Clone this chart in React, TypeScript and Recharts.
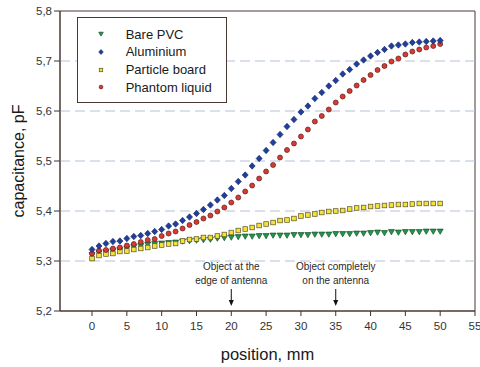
import {
  ReferenceArea,
  ReferenceDot,
  ReferenceLine,
  Scatter,
  ScatterChart,
  XAxis,
  YAxis,
} from "recharts";

// position, mm
const positions = [
  0, 1, 2, 3, 4, 5, 6, 7, 8, 9, 10, 11, 12, 13, 14, 15, 16, 17, 18, 19, 20,
  21, 22, 23, 24, 25, 26, 27, 28, 29, 30, 31, 32, 33, 34, 35, 36, 37, 38, 39,
  40, 41, 42, 43, 44, 45, 46, 47, 48, 49, 50,
];

// capacitance, pF
const barePvc = [
  5.312, 5.316, 5.318, 5.32, 5.322, 5.325, 5.328, 5.33, 5.333, 5.334, 5.335,
  5.336, 5.337, 5.339, 5.34, 5.341, 5.342, 5.343, 5.345, 5.346, 5.347, 5.348,
  5.349, 5.349, 5.35, 5.35, 5.351, 5.351, 5.351, 5.352, 5.352, 5.352, 5.353,
  5.353, 5.353, 5.354, 5.354, 5.354, 5.355, 5.355, 5.356, 5.357, 5.356, 5.358,
  5.357, 5.358, 5.358, 5.358, 5.359, 5.359, 5.359,
];
const aluminium = [
  5.323, 5.33, 5.335, 5.339, 5.34, 5.345, 5.349, 5.351, 5.355, 5.359, 5.363,
  5.37, 5.374, 5.381, 5.388, 5.395, 5.403, 5.412, 5.422, 5.431, 5.445, 5.459,
  5.472, 5.49, 5.505, 5.521, 5.537, 5.553, 5.569, 5.583, 5.598, 5.61, 5.625,
  5.637, 5.65, 5.661, 5.674, 5.683, 5.694, 5.702, 5.71, 5.717, 5.723, 5.73,
  5.732, 5.734, 5.737, 5.738, 5.739, 5.74, 5.741,
];
const particleBoard = [
  5.305, 5.311, 5.314, 5.315, 5.319, 5.32, 5.323, 5.325, 5.327, 5.33, 5.332,
  5.334, 5.335, 5.34, 5.343, 5.344, 5.347, 5.347, 5.35, 5.353, 5.357, 5.361,
  5.364, 5.367, 5.371, 5.374, 5.377, 5.381, 5.382, 5.385, 5.39, 5.392, 5.394,
  5.397, 5.399, 5.4, 5.401, 5.404, 5.406, 5.407, 5.409, 5.41, 5.411, 5.412,
  5.413, 5.413, 5.414, 5.415, 5.415, 5.415, 5.415,
];
const phantomLiquid = [
  5.315, 5.321, 5.322, 5.325, 5.327, 5.331, 5.334, 5.338, 5.342, 5.344, 5.35,
  5.355, 5.359, 5.365, 5.372, 5.378, 5.385, 5.391, 5.399, 5.407, 5.417, 5.427,
  5.439, 5.451, 5.465, 5.479, 5.492, 5.507, 5.522, 5.535, 5.549, 5.563, 5.579,
  5.59, 5.603, 5.617, 5.629, 5.64, 5.651, 5.662, 5.672, 5.682, 5.69, 5.699,
  5.705, 5.713, 5.719, 5.723, 5.727, 5.73, 5.734,
];

const xTicks = [0, 5, 10, 15, 20, 25, 30, 35, 40, 45, 50, 55];
const xMinorTicks = [
  -4, -3, -2, -1, 0, 1, 2, 3, 4, 5, 6, 7, 8, 9, 10, 11, 12, 13, 14, 15, 16,
  17, 18, 19, 20, 21, 22, 23, 24, 25, 26, 27, 28, 29, 30, 31, 32, 33, 34, 35,
  36, 37, 38, 39, 40, 41, 42, 43, 44, 45, 46, 47, 48, 49, 50, 51, 52, 53, 54,
  55,
];
const yTicks = [5.2, 5.3, 5.4, 5.5, 5.6, 5.7, 5.8];
const yMinorTicks = [
  5.2, 5.22, 5.24, 5.26, 5.28, 5.3, 5.32, 5.34, 5.36, 5.38, 5.4, 5.42, 5.44,
  5.46, 5.48, 5.5, 5.52, 5.54, 5.56, 5.58, 5.6, 5.62, 5.64, 5.66, 5.68, 5.7,
  5.72, 5.74, 5.76, 5.78, 5.8,
];
const gridValues = [5.3, 5.4, 5.5, 5.6, 5.7];

const annotations = [
  { x: 20, lines: ["Object at the", "edge of antenna"] },
  { x: 35, lines: ["Object completely", "on the antenna"] },
];

const X_DOMAIN: [number, number] = [-4.6, 55];
const Y_DOMAIN: [number, number] = [5.2, 5.8];
const FONT = "'Liberation Sans', Arial, sans-serif";
const LINE = "#4a3835";

type Kind = "triangle" | "diamond" | "square" | "circle";

const series: {
  name: string;
  values: number[];
  kind: Kind;
  fill: string;
  stroke: string;
}[] = [
  { name: "Bare PVC", values: barePvc, kind: "triangle", fill: "#1f9a4a", stroke: "#164a2a" },
  { name: "Aluminium", values: aluminium, kind: "diamond", fill: "#1f3f9f", stroke: "#1a2a6a" },
  { name: "Particle board", values: particleBoard, kind: "square", fill: "#f2e23a", stroke: "#5a5020" },
  { name: "Phantom liquid", values: phantomLiquid, kind: "circle", fill: "#d83a32", stroke: "#5a2020" },
];

// draw order: green under yellow under red under blue
const drawOrder = [0, 2, 3, 1];

function Marker({
  cx,
  cy,
  kind,
  fill,
  stroke,
  s = 1,
}: {
  cx: number;
  cy: number;
  kind: Kind;
  fill: string;
  stroke: string;
  s?: number;
}) {
  if (cx == null || cy == null) return null;
  const sw = 0.7;
  switch (kind) {
    case "triangle":
      return (
        <polygon
          points={`${cx - 3 * s},${cy - 2.4 * s} ${cx + 3 * s},${cy - 2.4 * s} ${cx},${cy + 2.8 * s}`}
          fill={fill}
          stroke={stroke}
          strokeWidth={sw}
        />
      );
    case "diamond":
      return (
        <polygon
          points={`${cx},${cy - 3.2 * s} ${cx + 3 * s},${cy} ${cx},${cy + 3.2 * s} ${cx - 3 * s},${cy}`}
          fill={fill}
          stroke={stroke}
          strokeWidth={sw}
        />
      );
    case "square":
      return (
        <rect
          x={cx - 2.3 * s}
          y={cy - 2.3 * s}
          width={4.6 * s}
          height={4.6 * s}
          fill={fill}
          stroke={stroke}
          strokeWidth={sw}
        />
      );
    default:
      return <circle cx={cx} cy={cy} r={2.5 * s} fill={fill} stroke={stroke} strokeWidth={sw} />;
  }
}

const fmt = (v: number) => v.toFixed(1).replace(".", ",");

function Annotation(props: any) {
  const { cx, cy, lines } = props;
  return (
    <g fontFamily={FONT} fontSize={10} fill="#2a2a2a">
      <text x={cx} y={cy - 41} textAnchor="middle">
        {lines[0]}
      </text>
      <text x={cx} y={cy - 27.5} textAnchor="middle">
        {lines[1]}
      </text>
      <line x1={cx} y1={cy - 22} x2={cx} y2={cy - 10} stroke="#111" strokeWidth={1} />
      <polygon
        points={`${cx - 2.5},${cy - 11} ${cx + 2.5},${cy - 11} ${cx},${cy - 5}`}
        fill="#111"
      />
    </g>
  );
}

export default function App() {
  return (
    <div
      style={{
        position: "absolute",
        left: 0,
        top: 0,
        width: 480,
        height: 367,
        background: "#fff",
        fontFamily: FONT,
      }}
    >
      <ScatterChart
        width={480}
        height={367}
        margin={{ top: 11, right: 5, bottom: 0, left: 0 }}
      >
        <XAxis
          type="number"
          dataKey="x"
          domain={X_DOMAIN}
          ticks={xTicks}
          allowDataOverflow
          height={56}
          tickSize={5}
          tickMargin={6}
          tickFormatter={(v) => String(v)}
          tick={{ fill: "#333", fontSize: 11.5, fontFamily: FONT }}
          stroke={LINE}
          tickLine={{ stroke: "#333" }}
          interval={0}
          label={(p: any) => {
            const vb = p.viewBox;
            return (
              <text
                x={vb.x + vb.width / 2}
                y={vb.y + 43}
                textAnchor="middle"
                dominantBaseline="central"
                fontFamily={FONT}
                fontSize={16.5}
                fill="#1a1a1a"
              >
                position, mm
              </text>
            );
          }}
        />
        <XAxis
          xAxisId="minor"
          type="number"
          dataKey="x"
          domain={X_DOMAIN}
          ticks={xMinorTicks}
          allowDataOverflow
          height={0}
          tickSize={3}
          tick={false}
          axisLine={false}
          tickLine={{ stroke: "#333" }}
          interval={0}
        />
        <YAxis
          type="number"
          dataKey="y"
          domain={Y_DOMAIN}
          ticks={yTicks}
          allowDataOverflow
          width={60}
          tickSize={6}
          tickMargin={2}
          tickFormatter={fmt}
          tick={{ fill: "#333", fontSize: 11.5, fontFamily: FONT }}
          stroke={LINE}
          tickLine={{ stroke: "#333" }}
          interval={0}
          label={(p: any) => {
            const vb = p.viewBox;
            const cx = 18;
            const cy = vb.y + vb.height / 2;
            return (
              <text
                x={cx}
                y={cy}
                transform={`rotate(-90 ${cx} ${cy})`}
                textAnchor="middle"
                dominantBaseline="central"
                fontFamily={FONT}
                fontSize={16}
                fill="#1a1a1a"
              >
                capacitance, pF
              </text>
            );
          }}
        />
        <YAxis
          yAxisId="minor"
          type="number"
          dataKey="y"
          domain={Y_DOMAIN}
          ticks={yMinorTicks}
          allowDataOverflow
          width={0}
          tickSize={3}
          tick={false}
          axisLine={false}
          tickLine={{ stroke: "#333" }}
          interval={0}
        />

        {gridValues.map((v) => (
          <ReferenceLine
            key={v}
            y={v}
            stroke="#b4c2d4"
            strokeDasharray="10 5"
            strokeWidth={1}
          />
        ))}

        <ReferenceArea
          x1={X_DOMAIN[0]}
          x2={X_DOMAIN[1]}
          y1={Y_DOMAIN[0]}
          y2={Y_DOMAIN[1]}
          fill="none"
          fillOpacity={0}
          stroke={LINE}
          strokeWidth={1}
        />

        {annotations.map((a) => (
          <ReferenceDot
            key={a.x}
            x={a.x}
            y={Y_DOMAIN[0]}
            r={0}
            shape={(p: any) => <Annotation {...p} lines={a.lines} />}
          />
        ))}

        {drawOrder.map((i) => {
          const s = series[i];
          const data = positions.map((x, k) => ({ x, y: s.values[k] }));
          return (
            <Scatter
              key={s.name}
              name={s.name}
              data={data}
              isAnimationActive={false}
              shape={(p: any) => (
                <Marker cx={p.cx} cy={p.cy} kind={s.kind} fill={s.fill} stroke={s.stroke} />
              )}
            />
          );
        })}
      </ScatterChart>

      <div
        style={{
          position: "absolute",
          left: 77,
          top: 17,
          width: 150,
          height: 86,
          boxSizing: "border-box",
          border: `1px solid ${LINE}`,
          background: "#fff",
          paddingTop: 7.5,
        }}
      >
        {series.map((s) => (
          <div
            key={s.name}
            style={{ display: "flex", alignItems: "center", height: 17.7 }}
          >
            <svg width={10} height={10} style={{ marginLeft: 18 }}>
              <Marker cx={5} cy={5} kind={s.kind} fill={s.fill} stroke={s.stroke} s={0.75} />
            </svg>
            <span
              style={{
                marginLeft: 19.7,
                fontSize: 13,
                color: "#1a1a1a",
                lineHeight: "17.7px",
                whiteSpace: "nowrap",
              }}
            >
              {s.name}
            </span>
          </div>
        ))}
      </div>
    </div>
  );
}
